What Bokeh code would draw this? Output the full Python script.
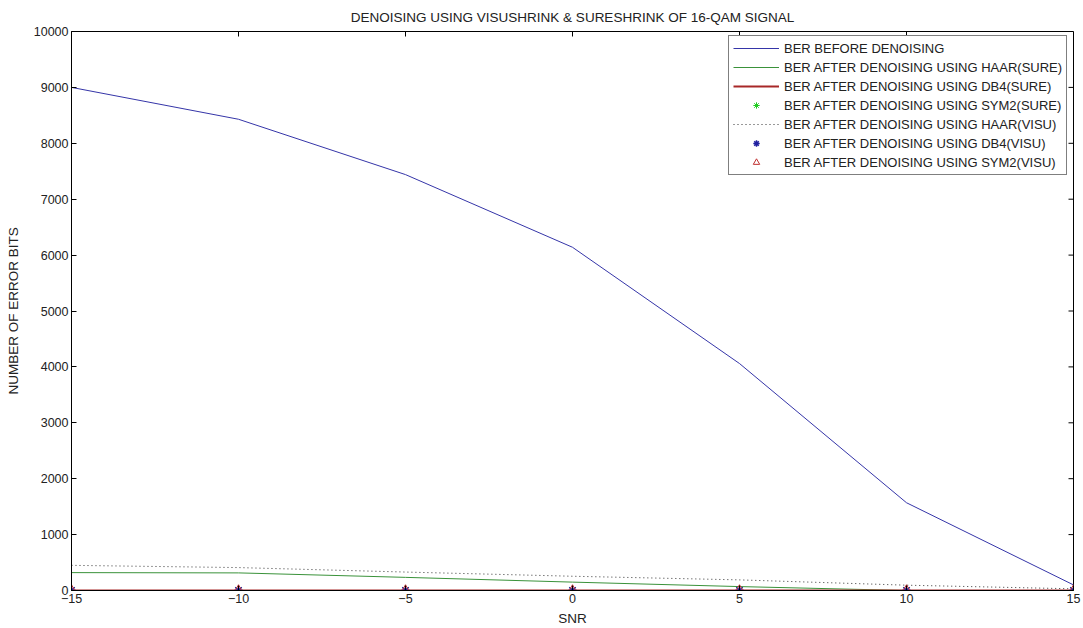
import math
from bokeh.plotting import figure
from bokeh.models import Range1d, FixedTicker, Legend, LegendItem
from bokeh.embed import file_html
from bokeh.resources import INLINE

snr = [-15, -10, -5, 0, 5, 10, 15]
ber_before = [9000, 8430, 7440, 6140, 4060, 1570, 100]
ber_haar_sure = [320, 315, 235, 150, 70, 0, 0]
ber_db4_sure = [0, 0, 0, 0, 0, 0, 0]
ber_sym2_sure = [0, 0, 0, 0, 0, 0, 0]
ber_haar_visu = [450, 410, 330, 255, 190, 95, 30]
ber_db4_visu = [0, 0, 0, 0, 0, 0, 0]
ber_sym2_visu = [0, 0, 0, 0, 0, 0, 0]

x_ticks = [-15, -10, -5, 0, 5, 10, 15]
y_ticks = [0, 1000, 2000, 3000, 4000, 5000, 6000, 7000, 8000, 9000, 10000]

FONT = "Liberation Sans"
X_MIN, X_MAX, Y_MIN, Y_MAX = -15, 15, 0, 10000

p = figure(width=1083, height=628, output_backend="svg", toolbar_location=None,
           x_range=Range1d(X_MIN, X_MAX), y_range=Range1d(Y_MIN, Y_MAX),
           min_border_left=71, min_border_right=10, min_border_top=30, min_border_bottom=38,
           title="DENOISING USING VISUSHRINK & SURESHRINK OF 16-QAM SIGNAL")
p.title.text_font = FONT
p.title.text_font_size = "13.5px"
p.title.text_font_style = "normal"
p.title.align = "center"
p.title.text_color = "#222222"
p.title.standoff = 14
p.xgrid.visible = False
p.ygrid.visible = False
p.outline_line_color = "#000000"
p.outline_line_alpha = 1
p.background_fill_color = "white"
p.border_fill_color = "white"

for ax in p.xaxis:
    ax.ticker = FixedTicker(ticks=x_ticks)
    ax.axis_label = "SNR"
    ax.axis_label_standoff = 5
for ax in p.yaxis:
    ax.ticker = FixedTicker(ticks=y_ticks)
    ax.axis_label = "NUMBER OF ERROR BITS"
    ax.axis_label_standoff = 10

for ax in list(p.xaxis) + list(p.yaxis):
    ax.major_tick_in = 5
    ax.major_tick_out = 0
    ax.minor_tick_in = 0
    ax.minor_tick_out = 0
    ax.axis_line_color = "#000000"
    ax.major_tick_line_color = "#000000"
    ax.major_label_text_font = FONT
    ax.major_label_text_font_size = "12.5px"
    ax.major_label_text_color = "#222222"
    ax.axis_label_text_font = FONT
    ax.axis_label_text_font_size = "13.5px"
    ax.axis_label_text_font_style = "normal"
    ax.axis_label_text_color = "#222222"
    ax.major_label_standoff = 3

# box ticks on top and right edges (screen-length rays from the tick values)
p.ray(x=x_ticks, y=[Y_MAX] * len(x_ticks), length=5, length_units="screen",
      angle=-math.pi / 2, line_color="#000000", line_width=1)
p.ray(x=[X_MAX] * len(y_ticks), y=y_ticks, length=5, length_units="screen",
      angle=math.pi, line_color="#000000", line_width=1)

r1 = p.line(snr, ber_before, line_color="#3535a8", line_width=1)
r2 = p.line(snr, ber_haar_sure, line_color="#3a923a", line_width=1)
r5 = p.line(snr, ber_haar_visu, line_color="#333333", line_width=1, line_dash="1 3")
r3 = p.line(snr, ber_db4_sure, line_color="#a82828", line_width=2)
r4 = p.scatter(snr, ber_sym2_sure, marker="asterisk", size=9, line_color="#22cc22", line_width=1)
r6 = p.scatter(snr, ber_db4_visu, marker="asterisk", size=9, line_color="#2020a0", line_width=1.5)
r7 = p.scatter(snr, ber_sym2_visu, marker="triangle", size=10, line_color="#c03030",
               fill_color=None, line_width=1)

legend = Legend(items=[
    LegendItem(label="BER BEFORE DENOISING", renderers=[r1]),
    LegendItem(label="BER AFTER DENOISING USING HAAR(SURE)", renderers=[r2]),
    LegendItem(label="BER AFTER DENOISING USING DB4(SURE)", renderers=[r3]),
    LegendItem(label="BER AFTER DENOISING USING SYM2(SURE)", renderers=[r4]),
    LegendItem(label="BER AFTER DENOISING USING HAAR(VISU)", renderers=[r5]),
    LegendItem(label="BER AFTER DENOISING USING DB4(VISU)", renderers=[r6]),
    LegendItem(label="BER AFTER DENOISING USING SYM2(VISU)", renderers=[r7]),
], location=(657, 415))
legend.label_text_font = FONT
legend.label_text_font_size = "13px"
legend.label_text_color = "#222222"
legend.label_height = 16
legend.glyph_height = 16
legend.glyph_width = 46
legend.spacing = 3
legend.padding = 4
legend.margin = 0
legend.label_standoff = 5
legend.border_line_color = "#000000"
legend.border_line_width = 1
legend.background_fill_alpha = 1
p.add_layout(legend, "center")

open("out.html", "w").write(file_html(p, INLINE))
